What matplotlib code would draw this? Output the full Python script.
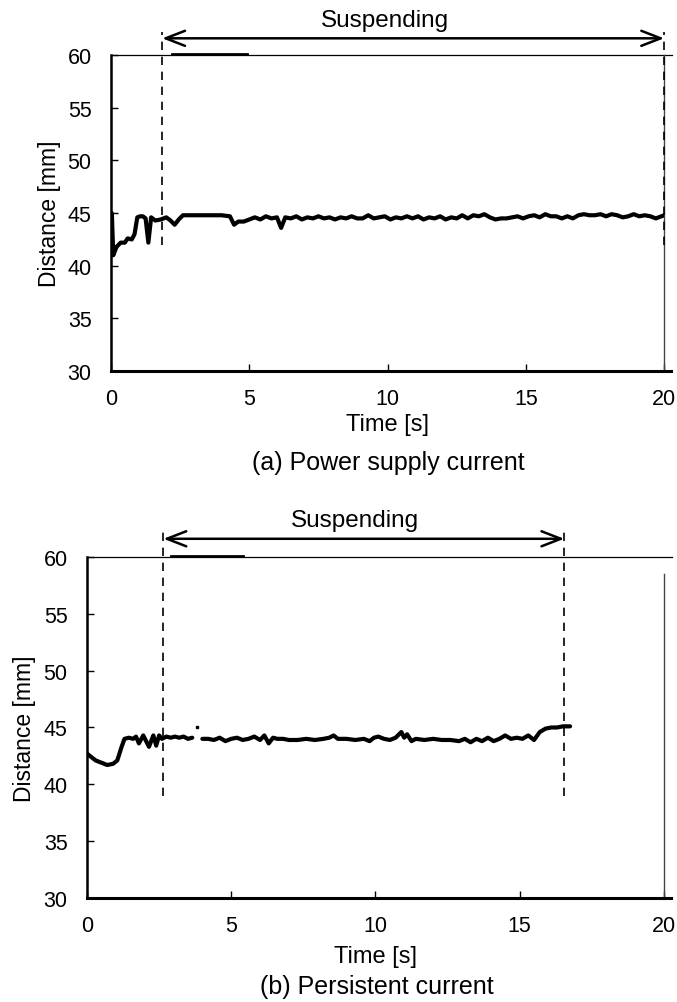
import matplotlib.pyplot as plt
import numpy as np

plt.rcParams['font.family'] = ['Liberation Sans', 'DejaVu Sans']
plt.rcParams['font.size'] = 15.5

# (a) Power supply current
t_a = [0, 0.03, 0.08, 0.2, 0.35, 0.5, 0.6, 0.75, 0.85, 0.95, 1.05, 1.15, 1.25, 1.35, 1.45,
       1.6, 1.8, 2.0, 2.15, 2.3, 2.45, 2.6, 2.8, 3.2, 3.6, 4.0, 4.3, 4.45, 4.6, 4.8,
       5.0, 5.2, 5.4, 5.6, 5.8, 6.0, 6.15, 6.3, 6.5, 6.7, 6.9, 7.1, 7.3, 7.5, 7.7,
       7.9, 8.1, 8.3, 8.5, 8.7, 8.9, 9.1, 9.3, 9.5, 9.7, 9.9, 10.1, 10.3, 10.5, 10.7,
       10.9, 11.1, 11.3, 11.5, 11.7, 11.9, 12.1, 12.3, 12.5, 12.7, 12.9, 13.1, 13.3, 13.5, 13.7,
       13.9, 14.1, 14.3, 14.5, 14.7, 14.9, 15.1, 15.3, 15.5, 15.7, 15.9, 16.1, 16.3, 16.5, 16.7,
       16.9, 17.1, 17.3, 17.5, 17.7, 17.9, 18.1, 18.3, 18.5, 18.7, 18.9, 19.1, 19.3, 19.5, 19.7,
       19.9, 20.0]
d_a = [44.0, 45.0, 41.0, 41.8, 42.2, 42.2, 42.6, 42.5, 43.0, 44.6, 44.7, 44.7, 44.5, 42.2, 44.6,
       44.3, 44.4, 44.6, 44.3, 43.9, 44.4, 44.8, 44.8, 44.8, 44.8, 44.8, 44.7, 43.9, 44.2, 44.2,
       44.4, 44.6, 44.4, 44.7, 44.5, 44.6, 43.6, 44.6, 44.5, 44.7, 44.4, 44.6, 44.5, 44.7, 44.5,
       44.6, 44.4, 44.6, 44.5, 44.7, 44.5, 44.5, 44.8, 44.5, 44.6, 44.7, 44.4, 44.6, 44.5, 44.7,
       44.5, 44.7, 44.4, 44.6, 44.5, 44.7, 44.4, 44.6, 44.5, 44.8, 44.5, 44.8, 44.7, 44.9, 44.6,
       44.4, 44.5, 44.5, 44.6, 44.7, 44.5, 44.7, 44.8, 44.6, 44.9, 44.7, 44.7, 44.5, 44.7, 44.5,
       44.8, 44.9, 44.8, 44.8, 44.9, 44.7, 44.9, 44.8, 44.6, 44.7, 44.9, 44.7, 44.8, 44.7, 44.5,
       44.7, 44.8]

# (b) Persistent current, two pieces with a gap and a lone point
t_b1 = [0, 0.15, 0.3, 0.5, 0.7, 0.9, 1.05, 1.2, 1.3, 1.45, 1.6, 1.7, 1.8, 1.95, 2.05,
        2.15, 2.3, 2.4, 2.5, 2.6, 2.75, 2.9, 3.05, 3.2, 3.35, 3.5, 3.65]
d_b1 = [42.7, 42.4, 42.1, 41.9, 41.7, 41.8, 42.1, 43.3, 44.0, 44.1, 44.0, 44.2, 43.6, 44.3, 43.8,
        43.3, 44.3, 43.4, 44.3, 44.0, 44.2, 44.1, 44.2, 44.1, 44.2, 44.0, 44.1]
t_dot = [3.82]
d_dot = [45.0]
t_b2 = [4.0, 4.2, 4.4, 4.6, 4.8, 5.0, 5.2, 5.4, 5.6, 5.8, 6.0, 6.15, 6.3, 6.45, 6.6,
        6.8, 7.0, 7.3, 7.6, 7.9, 8.2, 8.4, 8.55, 8.7, 9.0, 9.3, 9.6, 9.8, 9.95, 10.1,
        10.3, 10.5, 10.7, 10.9, 11.0, 11.1, 11.25, 11.4, 11.7, 12.0, 12.3, 12.6, 12.9, 13.1, 13.3,
        13.5, 13.7, 13.9, 14.1, 14.3, 14.5, 14.7, 14.9, 15.1, 15.3, 15.5, 15.7, 15.9, 16.1, 16.3,
        16.5, 16.75]
d_b2 = [44.0, 44.0, 43.9, 44.1, 43.8, 44.0, 44.1, 43.9, 44.0, 44.2, 43.9, 44.3, 43.6, 44.1, 44.0,
        44.0, 43.9, 43.9, 44.0, 43.9, 44.0, 44.1, 44.3, 44.0, 44.0, 43.9, 44.0, 43.8, 44.1, 44.2,
        44.0, 43.9, 44.1, 44.6, 44.1, 44.4, 43.8, 44.0, 43.9, 44.0, 43.9, 43.9, 43.8, 44.0, 43.7,
        44.0, 43.8, 44.1, 43.8, 44.0, 44.3, 44.0, 44.1, 44.0, 44.3, 43.9, 44.6, 44.9, 45.0, 45.0,
        45.1, 45.1]

susp_a = (1.85, 20.0)
susp_b = (2.65, 16.55)
label_x_a = 9.9
label_x_b = 9.3
legend_bit_a = (2.2, 4.9)
legend_bit_b = (2.9, 5.4)


def style_axes(ax, right_top, xpad):
    ax.set_xlim(0, 20)
    ax.set_ylim(30, 60)
    ax.set_xticks([0, 5, 10, 15, 20])
    ax.set_yticks([30, 35, 40, 45, 50, 55, 60])
    ax.tick_params(direction='in', length=5, width=1)
    ax.tick_params(axis='x', pad=12)
    ax.tick_params(axis='y', pad=14)
    ax.spines['left'].set_linewidth(1.8)
    ax.spines['bottom'].set_linewidth(2.2)
    ax.spines['top'].set_visible(False)
    ax.spines['right'].set_visible(False)
    # thin top line running a little past the axis
    ax.plot([0, 20.3], [60, 60], color='black', lw=0.9, clip_on=False)
    ax.plot([20, 20], [30, right_top], color='#444444', lw=1.0, clip_on=False)
    ax.plot([20, 20.25], [30, 30], color='black', lw=2.2, clip_on=False)
    ax.set_xlabel('Time [s]', labelpad=xpad, fontsize=17)
    ax.set_ylabel('Distance [mm]', labelpad=5, fontsize=16.5)


def suspending(ax, span, label_x, y_bot, bit):
    for x in span:
        ax.plot([x, x], [y_bot, 62.2], color='black', lw=1.2, ls=(0, (5, 4)), clip_on=False)
    ax.annotate('', xy=(span[1], 61.6), xytext=(span[0], 61.6), annotation_clip=False,
                arrowprops=dict(arrowstyle='<->,head_length=0.9,head_width=0.35', lw=1.8, color='black',
                                shrinkA=0, shrinkB=0))
    ax.text(label_x, 62.3, 'Suspending', ha='center', va='bottom', fontsize=17.5, clip_on=False)
    ax.plot(bit, [60.1, 60.1], color='black', lw=2.0, clip_on=False)


fig = plt.figure(figsize=(6.77, 10.03), dpi=100)

ax1 = fig.add_axes([0.164, 0.629, 0.817, 0.315])
style_axes(ax1, 60, 3)
ax1.plot(t_a, d_a, color='black', lw=3.0, solid_joinstyle='round', solid_capstyle='round')
suspending(ax1, susp_a, label_x_a, 42.0, legend_bit_a)
fig.text(0.574, 0.538, '(a) Power supply current', ha='center', va='center', fontsize=18)

ax2 = fig.add_axes([0.1285, 0.1037, 0.852, 0.340])
style_axes(ax2, 58.5, 7)
ax2.plot(t_b1, d_b1, color='black', lw=3.0, solid_joinstyle='round', solid_capstyle='round')
ax2.plot(t_b2, d_b2, color='black', lw=3.0, solid_joinstyle='round', solid_capstyle='round')
ax2.plot(t_dot, d_dot, 's', color='black', ms=1.5)
suspending(ax2, susp_b, label_x_b, 39.0, legend_bit_b)
fig.text(0.556, 0.016, '(b) Persistent current', ha='center', va='center', fontsize=18)

fig.savefig('out.png', dpi=100)
